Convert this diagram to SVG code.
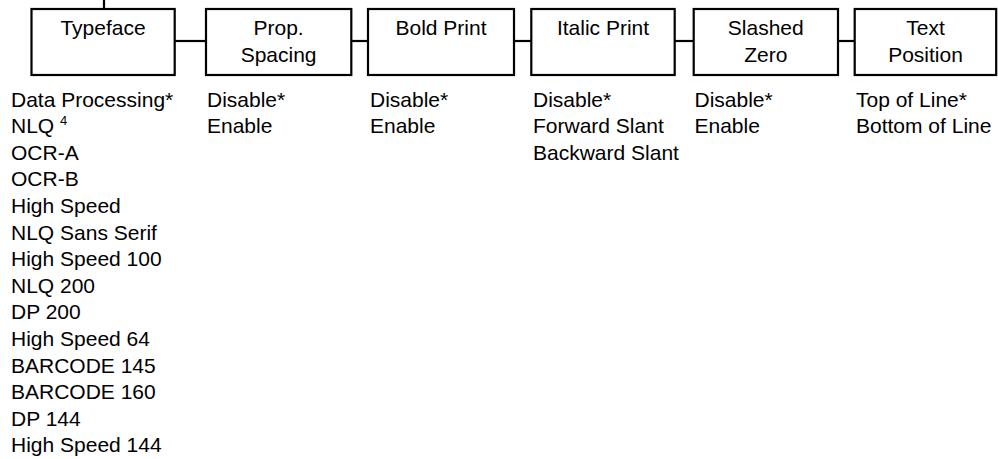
<svg xmlns="http://www.w3.org/2000/svg" width="998" height="459" viewBox="0 0 998 459">
<style>
.box{fill:#fff;stroke:#000;stroke-width:2.2}
.ln{stroke:#000;stroke-width:2.2;fill:none}
text{font-family:"Liberation Sans",Arial,sans-serif;font-size:21px;fill:#000}
.c{text-anchor:middle}
</style>
<rect width="998" height="459" fill="#fff"/>
<g id="connectors">
<line class="ln" x1="104" y1="0" x2="104" y2="9"/>
<line class="ln" x1="174.7" y1="41" x2="206" y2="41"/>
<line class="ln" x1="351.3" y1="41" x2="368" y2="41"/>
<line class="ln" x1="514" y1="41" x2="531.3" y2="41"/>
<line class="ln" x1="674.7" y1="41" x2="693.7" y2="41"/>
<line class="ln" x1="838" y1="41" x2="854.7" y2="41"/>
</g>
<g id="typeface">
<rect class="box" x="31.5" y="9" width="143.2" height="66"/>
<text class="c" x="103" y="34.5">Typeface</text>
<text x="11" y="106.5">Data Processing*</text>
<text x="11" y="133.1">NLQ <tspan font-size="13" dy="-8.5">4</tspan></text>
<text x="11" y="159.7">OCR-A</text>
<text x="11" y="186.3">OCR-B</text>
<text x="11" y="212.9">High Speed</text>
<text x="11" y="239.5">NLQ Sans Serif</text>
<text x="11" y="266.1">High Speed 100</text>
<text x="11" y="292.7">NLQ 200</text>
<text x="11" y="319.3">DP 200</text>
<text x="11" y="345.9">High Speed 64</text>
<text x="11" y="372.5">BARCODE 145</text>
<text x="11" y="399.1">BARCODE 160</text>
<text x="11" y="425.7">DP 144</text>
<text x="11" y="452.3">High Speed 144</text>
</g>
<g id="prop-spacing">
<rect class="box" x="206" y="9" width="145.3" height="66"/>
<text class="c" x="278.6" y="34.5">Prop.</text>
<text class="c" x="278.6" y="61.8">Spacing</text>
<text x="207" y="106.5">Disable*</text>
<text x="207" y="133.1">Enable</text>
</g>
<g id="bold-print">
<rect class="box" x="368" y="9" width="146" height="66"/>
<text class="c" x="441" y="34.5">Bold Print</text>
<text x="370" y="106.5">Disable*</text>
<text x="370" y="133.1">Enable</text>
</g>
<g id="italic-print">
<rect class="box" x="531.3" y="9" width="143.4" height="66"/>
<text class="c" x="603" y="34.5">Italic Print</text>
<text x="533" y="106.5">Disable*</text>
<text x="533" y="133.1">Forward Slant</text>
<text x="533" y="159.7">Backward Slant</text>
</g>
<g id="slashed-zero">
<rect class="box" x="693.7" y="9" width="144.3" height="66"/>
<text class="c" x="765.8" y="34.5">Slashed</text>
<text class="c" x="765.8" y="61.8">Zero</text>
<text x="694.5" y="106.5">Disable*</text>
<text x="694.5" y="133.1">Enable</text>
</g>
<g id="text-position">
<rect class="box" x="854.7" y="9" width="141.5" height="66"/>
<text class="c" x="925.5" y="34.5">Text</text>
<text class="c" x="925.5" y="61.8">Position</text>
<text x="856" y="106.5">Top of Line*</text>
<text x="856" y="133.1">Bottom of Line</text>
</g>
</svg>
